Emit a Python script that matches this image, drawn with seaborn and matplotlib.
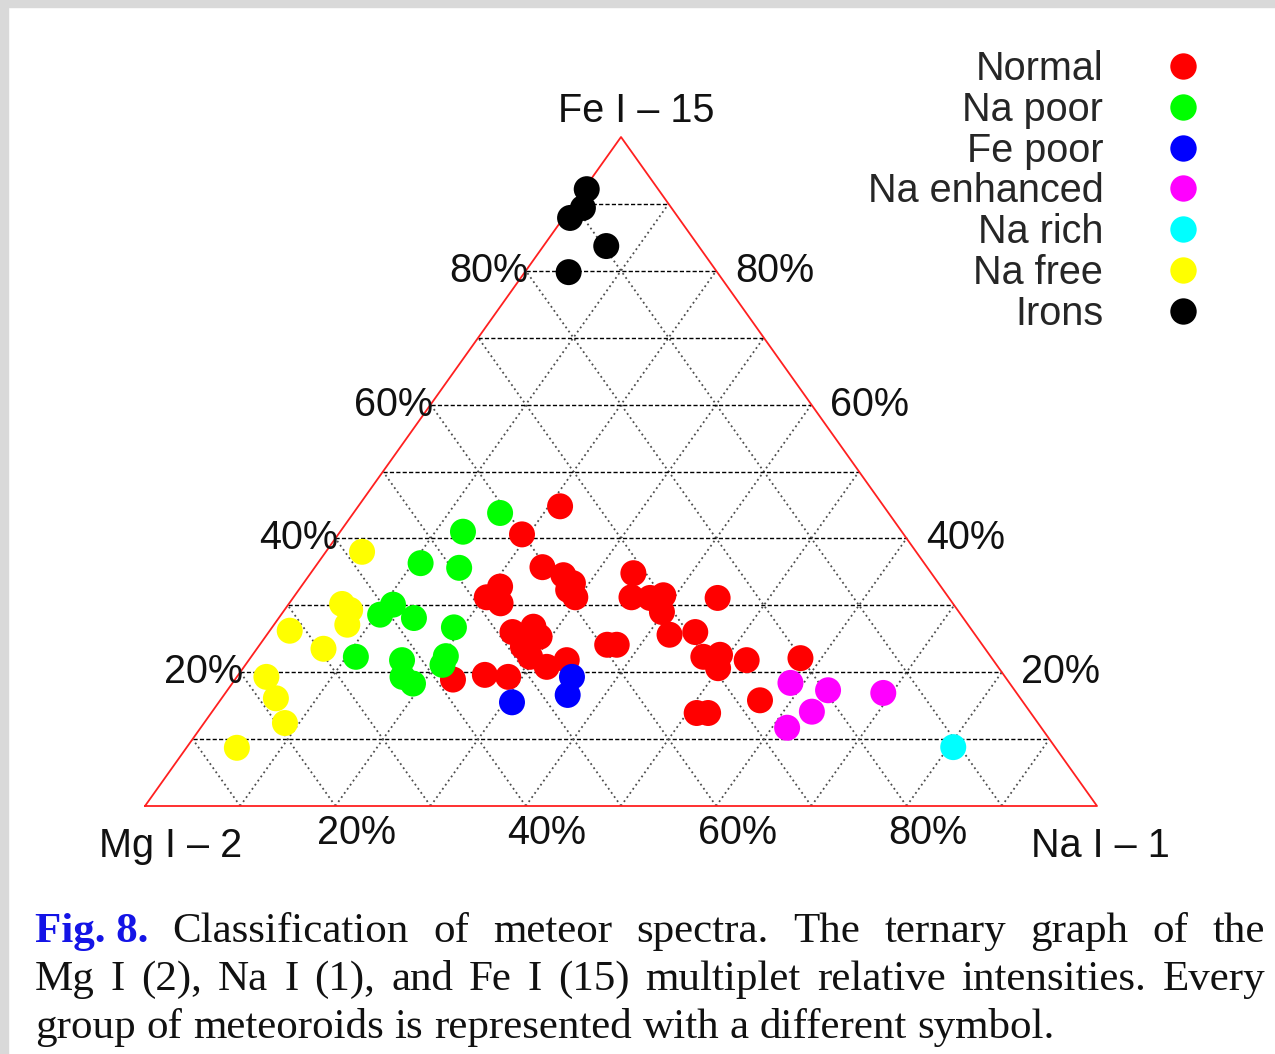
# Ternary graph of Mg I (2), Na I (1) and Fe I (15) relative intensities

import numpy as np
import pandas as pd
import matplotlib.pyplot as plt
import seaborn as sns
from matplotlib.lines import Line2D
from matplotlib.patches import Rectangle

sns.set_theme(style="white")
plt.rcParams['font.family'] = ['Liberation Sans', 'DejaVu Sans']

# 1. Data: (Mg %, Na %, Fe %)
groups = ['Normal', 'Na poor', 'Fe poor', 'Na enhanced', 'Na rich', 'Na free', 'Irons']
colors = ['#ff0000', '#00ff00', '#0000ff', '#ff00ff', '#00ffff', '#ffff00', '#000000']

normal = [
    (34.0, 21.2, 44.8), (40.1, 19.3, 40.6), (40.4, 23.9, 35.7), (38.8, 26.7, 34.5),
    (38.4, 28.3, 33.3), (39.4, 28.3, 32.3), (39.2, 29.6, 31.2), (46.3, 20.9, 32.8),
    (48.5, 20.3, 31.2), (47.5, 22.2, 30.3), (31.3, 33.9, 34.8), (33.3, 35.5, 31.2),
    (31.4, 37.5, 31.1), (29.8, 38.7, 31.5), (31.2, 39.8, 29.0), (32.1, 42.3, 25.6),
    (29.2, 44.8, 26.0), (24.3, 44.6, 31.1), (30.2, 47.5, 22.3), (28.3, 49.1, 22.6),
    (29.5, 49.9, 20.6), (25.9, 52.3, 21.8), (20.1, 57.8, 22.1), (27.5, 56.7, 15.8),
    (35.1, 51.0, 13.9), (33.9, 52.2, 13.9), (48.4, 25.6, 26.0), (45.8, 27.4, 26.8),
    (45.9, 28.8, 25.3), (48.4, 27.8, 23.8), (48.4, 29.3, 22.3), (47.4, 31.8, 20.8),
    (44.8, 33.4, 21.8), (39.4, 36.5, 24.1), (38.4, 37.5, 24.1), (58.2, 22.9, 18.9),
    (54.5, 25.9, 19.6), (52.2, 28.5, 19.3),
]
na_poor = [
    (40.8, 15.4, 43.8), (46.1, 12.9, 41.0), (52.9, 10.8, 36.3), (49.2, 15.2, 35.6),
    (58.9, 11.0, 30.1), (61.0, 10.4, 28.6), (57.7, 14.2, 28.1), (54.2, 19.1, 26.7),
    (66.7, 11.0, 22.3), (62.1, 16.1, 21.8), (63.3, 17.4, 19.3), (62.7, 19.0, 18.3),
    (57.2, 20.4, 22.4), (58.2, 20.7, 21.1),
]
fe_poor = [(53.7, 30.8, 15.5), (45.5, 35.2, 19.3), (47.3, 36.1, 16.6)]
na_enhanced = [(23.0, 58.6, 18.4), (19.6, 63.1, 17.3), (22.9, 63.0, 14.1),
               (26.7, 61.6, 11.7), (14.0, 69.1, 16.9)]
na_rich = [(10.7, 80.5, 8.8)]
na_free = [
    (58.2, 3.8, 38.0), (64.2, 5.6, 30.2), (63.8, 6.9, 29.3), (65.2, 7.7, 27.1),
    (71.7, 2.1, 26.2), (69.5, 7.0, 23.5), (77.6, 3.1, 19.3), (78.2, 5.7, 16.1),
    (79.1, 8.5, 12.4), (86.0, 5.3, 8.7),
]
irons = [(7.5, 0.3, 92.2), (9.3, 1.3, 89.4), (11.4, 0.7, 87.9), (9.7, 6.6, 83.7), (15.6, 4.6, 79.8)]

pct_ticks = [20, 40, 60, 80]
caption_lead = 'Fig. 8.'
caption_lines = [
    'Classification of meteor spectra. The ternary graph of the',
    'Mg I (2), Na I (1), and Fe I (15) multiplet relative intensities. Every',
    'group of meteoroids is represented with a different symbol.',
]

# 2. Build table and project to triangle coords
rows = []
for name, pts in zip(groups, [normal, na_poor, fe_poor, na_enhanced, na_rich, na_free, irons]):
    for mg, na, fe in pts:
        rows.append((name, mg, na, fe))
df = pd.DataFrame(rows, columns=['group', 'Mg', 'Na', 'Fe'])
tot = df[['Mg', 'Na', 'Fe']].sum(axis=1)
df['x'] = (df['Na'] + df['Fe'] / 2) / tot
df['y'] = df['Fe'] / tot

W, H = 1275, 1054
fig = plt.figure(figsize=(W / 100, H / 100), dpi=100)
fig.patch.set_facecolor('white')
fig.patches.append(Rectangle((0, 1 - 7 / H), 1, 7 / H, transform=fig.transFigure, color='#d9d9d9', zorder=0))
fig.patches.append(Rectangle((0, 0), 8 / W, 1, transform=fig.transFigure, color='#d9d9d9', zorder=0))

ax = fig.add_axes([145 / W, 1 - 806 / H, 952 / W, 669 / H])
ax.set_xlim(0, 1)
ax.set_ylim(0, 1)
ax.axis('off')

# 3. Grid
for t in np.arange(1, 10) / 10:
    ax.plot([t / 2, 1 - t / 2], [t, t], color='black', ls=(0, (3, 1.6)), lw=1.0, zorder=1)
    ax.plot([t, t + (1 - t) / 2], [0, 1 - t], color='0.3', ls=(0, (1, 1.8)), lw=1.3, zorder=1)
    ax.plot([1 - t, (1 - t) / 2], [0, 1 - t], color='0.3', ls=(0, (1, 1.8)), lw=1.3, zorder=1)
ax.plot([0, 1, 0.5, 0], [0, 0, 1, 0], color='#ff2020', lw=1.3, zorder=2, clip_on=False)

# 4. Points
sns.scatterplot(data=df, x='x', y='y', hue='group', hue_order=groups,
                palette=dict(zip(groups, colors)), s=350, linewidth=0,
                legend=False, ax=ax, clip_on=False, zorder=3)

fs = 28.5
for v in pct_ticks:
    f = v / 100
    ax.text(f / 2 + 0.003, f, f'{v}%', ha='right', va='center', fontsize=fs, color='#111111')
    ax.text(1 - f / 2 + 0.02, f, f'{v}%', ha='left', va='center', fontsize=fs, color='#111111')
    ax.text(f + 0.022, -0.04, f'{v}%', ha='center', va='center', fontsize=fs, color='#111111')

ax.text(0.5158, 1.039, 'Fe I – 15', ha='center', va='center', fontsize=fs, color='#111111')
ax.text(0.027, -0.06, 'Mg I – 2', ha='center', va='center', fontsize=fs, color='#111111')
ax.text(1.004, -0.06, 'Na I – 1', ha='center', va='center', fontsize=fs, color='#111111')

# 5. Legend
handles = [Line2D([], [], ls='', marker='o', ms=19, mfc=c, mec='none') for c in colors]
fig.legend(handles, groups, loc='upper right', bbox_to_anchor=(1213 / W, 1 - 50 / H),
           markerfirst=False, frameon=False, fontsize=fs, handlelength=1.5,
           handletextpad=1.27, labelspacing=0.07, borderpad=0, borderaxespad=0)

# 6. Caption, justified word by word
renderer = fig.canvas.get_renderer()
cap_fs = 31
left_px, right_px = 35, 1265
baselines = [942, 990, 1038]
for i, line in enumerate(caption_lines):
    items = [(w, {}) for w in line.split()]
    if i == 0:
        items.insert(0, (caption_lead, dict(color='#1414e6', weight='bold')))
    texts = [fig.text(0, 1 - baselines[i] / H, w, fontsize=cap_fs, family='Liberation Serif',
                      va='baseline', ha='left', color=kw.get('color', '#111111'),
                      weight=kw.get('weight', 'normal')) for w, kw in items]
    widths = [t.get_window_extent(renderer).width for t in texts]
    if i < len(caption_lines) - 1:
        gap = (right_px - left_px - sum(widths)) / (len(texts) - 1)
    else:
        gap = 0.25 * cap_fs * 100 / 72
    x = left_px
    for t, w in zip(texts, widths):
        t.set_x(x / W)
        x += w + gap

fig.savefig('out.png', dpi=100)
